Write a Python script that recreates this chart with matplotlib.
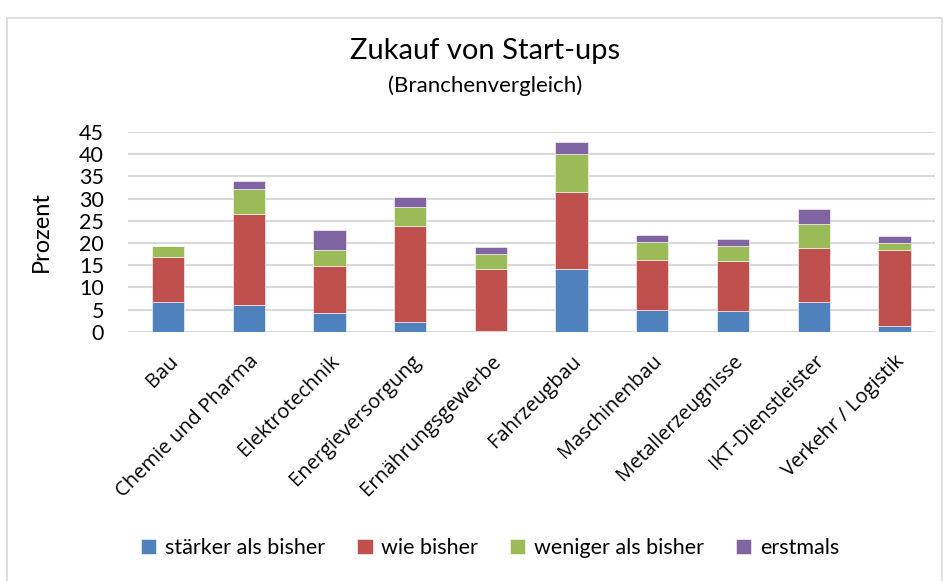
import numpy as np
import matplotlib
matplotlib.use("Agg")
import matplotlib.pyplot as plt
from matplotlib.patches import Rectangle

# Branchen und Anteile (Prozent)
branchen = ["Bau", "Chemie und Pharma", "Elektrotechnik", "Energieversorgung",
            "Ernährungsgewerbe", "Fahrzeugbau", "Maschinenbau",
            "Metallerzeugnisse", "IKT-Dienstleister", "Verkehr / Logistik"]
staerker = [6.7, 6.1, 4.3, 2.1, 0.2, 14.2, 4.9, 4.7, 6.7, 1.4]
wie_bisher = [10.2, 20.5, 10.55, 21.8, 14.0, 17.2, 11.3, 11.3, 12.2, 17.05]
weniger = [2.3, 5.5, 3.55, 4.3, 3.2, 8.6, 4.1, 3.35, 5.4, 1.5]
erstmals = [0.0, 1.8, 4.4, 2.2, 1.6, 2.8, 1.45, 1.55, 3.3, 1.5]

serien = ["stärker als bisher", "wie bisher", "weniger als bisher", "erstmals"]
farben = ["#4F81BD", "#C0504D", "#9BBB59", "#8064A2"]

plt.rcParams['font.family'] = ['Lato', 'DejaVu Sans']

fig = plt.figure(figsize=(9.52, 5.81), dpi=100)
ax = fig.add_axes([0.134, 0.429, 0.848, 0.344])

# Rahmen um das Diagramm
fig.patches.append(Rectangle((7 / 952, -0.01), 935 / 952, 1 - 18 / 581 + 0.01,
                             transform=fig.transFigure, fill=False,
                             edgecolor="#D9D9D9", linewidth=1.2))

x = np.arange(len(branchen))
unten = np.zeros(len(branchen))
for werte, name, farbe in zip([staerker, wie_bisher, weniger, erstmals], serien, farben):
    ax.bar(x, werte, width=0.4, bottom=unten, color=farbe, label=name,
           edgecolor="white", linewidth=0.4, zorder=3)
    unten = unten + np.array(werte)

ax.set_xlim(-0.5, len(branchen) - 0.5)
ax.set_ylim(0, 45)
ax.set_yticks(range(0, 46, 5))
ax.grid(axis="y", color="#D9D9D9", linewidth=1.5, zorder=0)
ax.tick_params(axis="both", length=0)
ax.tick_params(axis="y", pad=17, labelsize=15.5)
for s in ax.spines.values():
    s.set_visible(False)

ax.set_xticks(x)
ax.set_xticklabels(branchen, rotation=45, ha="right", rotation_mode="anchor",
                   family=["Open Sans", "DejaVu Sans"], fontsize=14.5)
ax.tick_params(axis="x", pad=14)
ax.set_ylabel("Prozent", fontsize=17)
ax.yaxis.set_label_coords(-0.094, 0.5)

fig.text(0.51, 0.913, "Zukauf von Start-ups", ha="center", va="center", fontsize=21)
fig.text(0.51, 0.853, "(Branchenvergleich)", ha="center", va="center", fontsize=16)

fig.legend(loc="center", bbox_to_anchor=(0.515, 0.057), ncol=4, frameon=False,
           fontsize=15.5, handlelength=0.7, handleheight=0.7, handletextpad=0.4,
           columnspacing=1.5)

fig.savefig("out.png", dpi=100)
